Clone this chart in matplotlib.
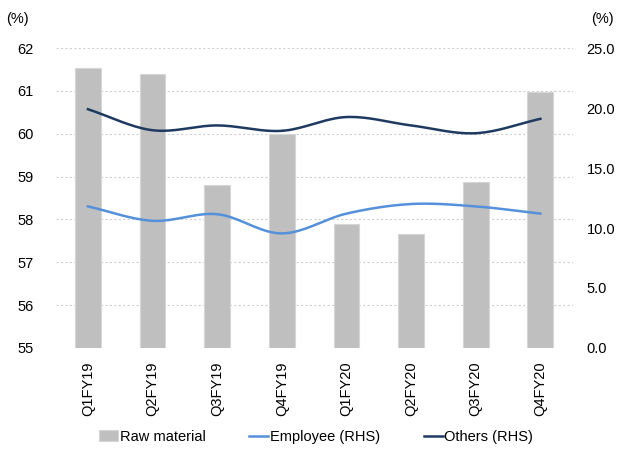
import numpy as np
import matplotlib
matplotlib.use("Agg")
import matplotlib.pyplot as plt

plt.rcParams['font.family'] = ['Liberation Sans', 'DejaVu Sans']

# data
quarters = ['Q1FY19', 'Q2FY19', 'Q3FY19', 'Q4FY19', 'Q1FY20', 'Q2FY20', 'Q3FY20', 'Q4FY20']
raw_material = [61.53, 61.39, 58.8, 60.0, 57.9, 57.65, 58.87, 60.97]
employee = [11.8, 10.6, 11.15, 9.55, 11.2, 12.0, 11.8, 11.2]
others = [19.9, 18.15, 18.55, 18.1, 19.25, 18.55, 17.9, 19.1]


def smooth(xs, ys, steps=20):
    # catmull-rom curve through the points, like excel smoothed lines
    xs = np.asarray(xs, float)
    ys = np.asarray(ys, float)
    px = np.concatenate([[2 * xs[0] - xs[1]], xs, [2 * xs[-1] - xs[-2]]])
    py = np.concatenate([[2 * ys[0] - ys[1]], ys, [2 * ys[-1] - ys[-2]]])
    outx, outy = [], []
    t = np.linspace(0, 1, steps)
    for i in range(1, len(px) - 2):
        for p, out in ((px, outx), (py, outy)):
            p0, p1, p2, p3 = p[i - 1], p[i], p[i + 1], p[i + 2]
            out.extend(0.5 * (2 * p1 + (-p0 + p2) * t
                              + (2 * p0 - 5 * p1 + 4 * p2 - p3) * t ** 2
                              + (-p0 + 3 * p1 - 3 * p2 + p3) * t ** 3))
    return outx, outy


fig = plt.figure(figsize=(6.2, 4.49), dpi=100)
ax = fig.add_axes([0.0897, 0.225, 0.834, 0.668])
ax2 = ax.twinx()

fs = 10.5
x = np.arange(len(quarters))
ax.bar(x, raw_material, width=0.4, color='#BFBFBF', edgecolor='#D6D6D6',
       linewidth=0.8, label='Raw material', zorder=2)
ax.set_ylim(55, 62)
ax.set_yticks(range(55, 63))
ax.set_xlim(-0.5, len(quarters) - 0.5)
ax.set_xticks(x)
ax.set_xticklabels(quarters, rotation=90, fontsize=fs)
ax.yaxis.grid(True, linestyle=(0, (2, 2)), color='#D0D0D0', linewidth=0.8)
ax.set_axisbelow(True)

ex, ey = smooth(x, employee)
ox, oy = smooth(x, others)
ax2.plot(ex, ey, color='#5591DB', linewidth=1.8, label='Employee (RHS)')
ax2.plot(ox, oy, color='#1F3A60', linewidth=1.8, label='Others (RHS)')
ax2.set_ylim(0, 25)
ax2.set_yticks(np.arange(0, 26, 5))
ax2.set_yticklabels(['%.1f' % v for v in np.arange(0, 26, 5)])

for a in (ax, ax2):
    for s in a.spines.values():
        s.set_visible(False)
    a.tick_params(length=0, labelsize=fs)
ax.tick_params(axis='y', pad=16)
ax.tick_params(axis='x', pad=10)
ax2.tick_params(axis='y', pad=10)

fig.text(0.01, 0.958, '(%)', fontsize=fs, va='center')
fig.text(0.99, 0.958, '(%)', fontsize=fs, va='center', ha='right')

h1, l1 = ax.get_legend_handles_labels()
h2, l2 = ax2.get_legend_handles_labels()
fig.legend(h1 + h2, l1 + l2, loc='center', bbox_to_anchor=(0.51, 0.027), ncol=3,
           frameon=False, fontsize=fs, handlelength=1.3, handleheight=0.8,
           handletextpad=0.1, columnspacing=3.0)

fig.savefig('out.png', dpi=100)
